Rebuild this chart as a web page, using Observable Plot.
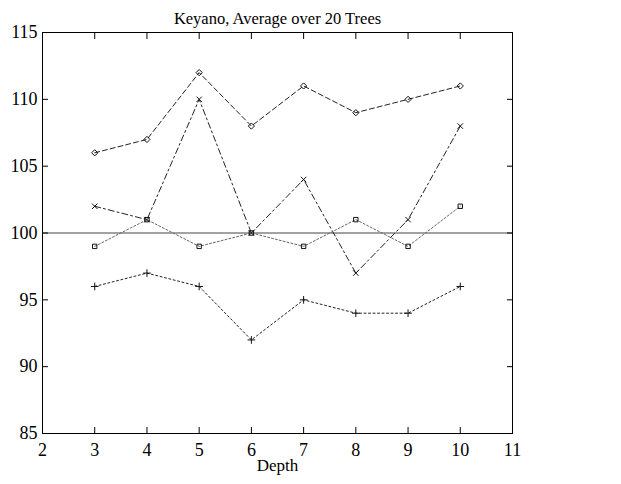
<!DOCTYPE html>
<html><head><meta charset="utf-8">
<script src="https://cdn.jsdelivr.net/npm/d3@7"></script>
<script src="https://cdn.jsdelivr.net/npm/@observablehq/plot@0.6"></script>
<style>
body{margin:0;background:#fff}
#chart svg g[aria-label="x-axis tick label"], #chart svg g[aria-label="y-axis tick label"]{font-size:18px}
</style>
</head><body><div id="chart"></div>
<script>
const title = "Keyano, Average over 20 Trees";
const depth = [3, 4, 5, 6, 7, 8, 9, 10];
const seriesDiamond = [106, 107, 112, 108, 111, 109, 110, 111];
const seriesTimes = [102, 101, 110, 100, 104, 97, 101, 108];
const seriesSquare = [99, 101, 99, 100, 99, 101, 99, 102];
const seriesPlus = [96, 97, 96, 92, 95, 94, 94, 96];
const xTicks = [2, 3, 4, 5, 6, 7, 8, 9, 10, 11];
const yTicks = [85, 90, 95, 100, 105, 110, 115];
const baseline = [100];

const mk = (vals) => depth.map((d, i) => ({x: d, y: vals[i]}));
const styles = [
  {data: mk(seriesDiamond), symbol: "diamond2", dash: "5,3", color: "#222", r: 2.8},
  {data: mk(seriesTimes), symbol: "times", dash: "6,3,2,3", color: "#222", r: 2.6},
  {data: mk(seriesSquare), symbol: "square2", dash: "2,2", color: "#666", r: 2.8},
  {data: mk(seriesPlus), symbol: "plus", dash: "2,2.5", color: "#222", r: 2.6}
];

const marks = [
  Plot.frame({stroke: "#000", strokeWidth: 1}),
  Plot.ruleY(baseline, {stroke: "#444", strokeWidth: 1}),
  Plot.axisX(xTicks, {anchor: "bottom", tickSize: 0, tickPadding: 10, fontSize: 18, label: null}),
  Plot.axisX(xTicks, {anchor: "bottom", tickSize: 6, dy: -6, text: null, label: null}),
  Plot.axisX(xTicks, {anchor: "top", tickSize: 6, dy: 6, text: null, label: null}),
  Plot.axisY(yTicks, {anchor: "left", tickSize: 0, tickPadding: 5, fontSize: 18, label: null}),
  Plot.axisY(yTicks, {anchor: "left", tickSize: 6, dx: 6, text: null, label: null}),
  Plot.axisY(yTicks, {anchor: "right", tickSize: 6, dx: -6, text: null, label: null}),
  Plot.text([title], {frameAnchor: "top", dy: -20, fontSize: 16.5}),
  Plot.text(["Depth"], {frameAnchor: "bottom", dy: 37, fontSize: 17})
];
for (const s of styles) {
  marks.push(Plot.line(s.data, {x: "x", y: "y", stroke: s.color, strokeWidth: 1, strokeDasharray: s.dash}));
  marks.push(Plot.dot(s.data, {x: "x", y: "y", symbol: () => s.symbol, r: s.r, stroke: "#111", strokeWidth: 1, fill: "none"}));
}

const chart = Plot.plot({
  width: 621,
  height: 484,
  marginLeft: 42,
  marginRight: 109,
  marginTop: 32,
  marginBottom: 51,
  style: {fontFamily: "'Liberation Serif', 'Times New Roman', serif", fontSize: "18px", background: "#fff", color: "#000"},
  x: {domain: [2, 11]},
  y: {domain: [85, 115]},
  symbol: {type: "identity"},
  marks
});
document.getElementById("chart").appendChild(chart);
</script>
</body></html>
